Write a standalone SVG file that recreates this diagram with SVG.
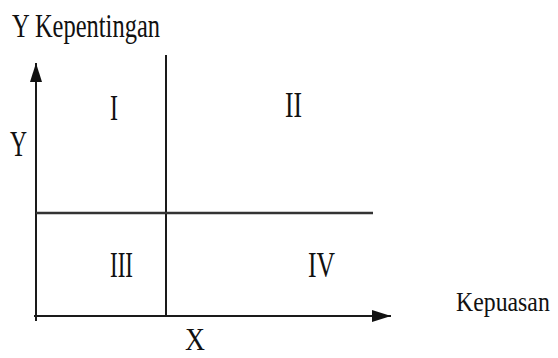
<svg xmlns="http://www.w3.org/2000/svg" width="558" height="358" viewBox="0 0 558 358">
<style>
.ln{stroke:#1a1a1a;stroke-width:2;fill:none}
.t{font-family:"Liberation Serif","Times New Roman",serif;fill:#111}
</style>
<defs>
<marker id="ah" markerUnits="userSpaceOnUse" markerWidth="20" markerHeight="12" refX="19" refY="6" orient="auto">
<path d="M0,0 L19,6 L0,12 z" fill="#111"/>
</marker>
</defs>
<rect width="558" height="358" fill="#fff"/>
<g id="connectors">
<line id="y-axis" class="ln" x1="36" y1="321" x2="36" y2="63" marker-end="url(#ah)"/>
<line id="x-axis" class="ln" x1="34" y1="316" x2="391" y2="316" marker-end="url(#ah)"/>
<line id="v-divider" class="ln" x1="166" y1="55" x2="166" y2="316"/>
<line id="h-divider" class="ln" x1="36" y1="213" x2="373" y2="213" style="stroke:#333;stroke-width:2.5"/>
</g>
<g id="title"><text class="t" x="12" y="37" font-size="33" textLength="148" lengthAdjust="spacingAndGlyphs">Y Kepentingan</text></g>
<g id="y-label"><text class="t" x="10" y="156" font-size="35" textLength="17" lengthAdjust="spacingAndGlyphs">Y</text></g>
<g id="x-label"><text class="t" x="185" y="350" font-size="32" textLength="20" lengthAdjust="spacingAndGlyphs">X</text></g>
<g id="kepuasan"><text class="t" transform="translate(456,311) scale(0.85,1)" x="0" y="0" font-size="28">Kepuasan</text></g>
<g id="q1"><text class="t" x="110" y="120" font-size="36" textLength="8" lengthAdjust="spacingAndGlyphs">I</text></g>
<g id="q2"><text class="t" x="285" y="117" font-size="36" textLength="17" lengthAdjust="spacingAndGlyphs">II</text></g>
<g id="q3"><text class="t" x="110" y="277" font-size="36" textLength="23" lengthAdjust="spacingAndGlyphs">III</text></g>
<g id="q4"><text class="t" x="308" y="277" font-size="36" textLength="27" lengthAdjust="spacingAndGlyphs">IV</text></g>
</svg>
